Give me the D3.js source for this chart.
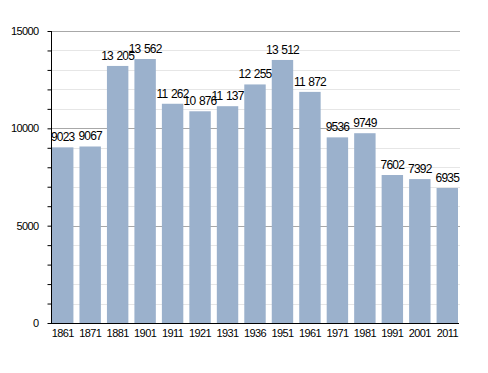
<!DOCTYPE html>
<meta charset="utf-8">
<style>
  body { margin: 0; background: #fff; }
  text { font-family: "Liberation Sans", Arial, sans-serif; fill: #000; letter-spacing: -0.6px; }
  .value { letter-spacing: -0.8px; word-spacing: 1px; }
</style>
<svg width="488" height="373"></svg>
<script src="https://cdn.jsdelivr.net/npm/d3@7"></script>
<script>
var years = ["1861","1871","1881","1901","1911","1921","1931","1936","1951","1961","1971","1981","1991","2001","2011"];
var population = [9023, 9067, 13205, 13562, 11262, 10876, 11137, 12255, 13512, 11872, 9536, 9749, 7602, 7392, 6935];
var yTicks = [0, 5000, 10000, 15000];

var svg = d3.select("svg"),
    plotLeft = 51, plotRight = 459, plotTop = 31, plotBottom = 323;

var x = d3.scaleBand().domain(years).range([plotLeft + 1, plotRight - 1])
    .paddingInner(0.22).paddingOuter(0);
var y = d3.scaleLinear().domain([0, 15000]).range([plotBottom, plotTop]);

// 13 205 style for five digits, 9023 for four
function fmt(v) {
  var s = String(v);
  return v >= 10000 ? s.slice(0, s.length - 3) + " " + s.slice(-3) : s;
}

function gy(d) { return Math.round(y(d)) + 0.5; }

// minor grid every 1000
svg.append("g").selectAll("line")
  .data(d3.range(1000, 15000, 1000).filter(function(d) { return d % 5000; }))
  .join("line")
  .attr("x1", plotLeft).attr("x2", plotRight + 1)
  .attr("y1", gy).attr("y2", gy)
  .attr("stroke", "#e6e6e6");

// major grid
svg.append("g").selectAll("line")
  .data([5000, 10000, 15000])
  .join("line")
  .attr("x1", plotLeft).attr("x2", plotRight + 1)
  .attr("y1", gy).attr("y2", gy)
  .attr("stroke", "#a8a8a8");

// bars
svg.append("g").selectAll("rect")
  .data(population)
  .join("rect")
  .attr("x", function(d, i) { return x(years[i]); })
  .attr("width", x.bandwidth())
  .attr("y", function(d) { return y(d); })
  .attr("height", function(d) { return y(0) - y(d); })
  .attr("fill", "#9bb1cc");

// value labels
svg.append("g").selectAll("text")
  .data(population)
  .join("text")
  .attr("class", "value")
  .attr("x", function(d, i) { return x(years[i]) + x.bandwidth() / 2; })
  .attr("y", function(d) { return y(d) - 6; })
  .attr("text-anchor", "middle")
  .attr("font-size", 12)
  .text(fmt);

// y axis with minor ticks
var yAxis = svg.append("g")
  .attr("transform", "translate(" + (plotLeft + 0.5) + ",0)")
  .call(d3.axisLeft(y).tickValues(d3.range(0, 15001, 1000)).tickSize(4)
    .tickFormat(function(d) { return yTicks.indexOf(d) >= 0 ? d : ""; }));
yAxis.select(".domain").attr("stroke", "#000").attr("d", "M0," + plotTop + "V" + plotBottom);
yAxis.selectAll(".tick line").attr("stroke", "#000");
yAxis.selectAll(".tick text").attr("font-size", 11).attr("x", -13).attr("font-family", null);

// x axis
var xAxis = svg.append("g")
  .attr("transform", "translate(0," + (plotBottom + 0.5) + ")")
  .call(d3.axisBottom(x).tickSize(0).tickPadding(6));
xAxis.select(".domain").attr("stroke", "#000").attr("d", "M" + plotLeft + ",0H" + plotRight);
xAxis.selectAll(".tick text").attr("font-size", 11).attr("font-family", null);
</script>
